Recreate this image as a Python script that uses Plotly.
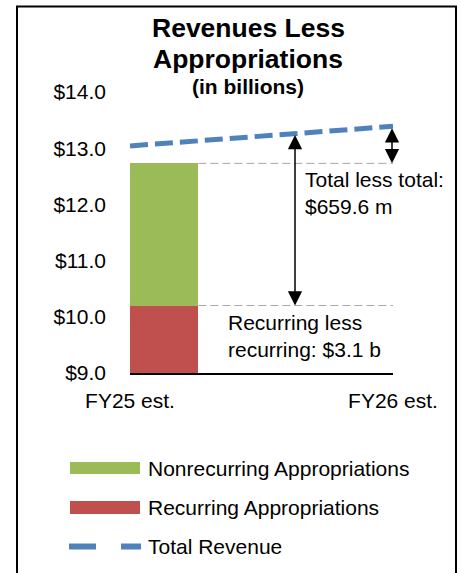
import plotly.graph_objects as go

# ---- data ----
categories = ["FY25 est.", "FY26 est."]
cat_pos = [0, 1]
recurring = [10.20]          # FY25 recurring appropriations ($b)
nonrecurring = [2.53]        # FY25 nonrecurring appropriations ($b)
total_revenue = [13.04, 13.39]
y_ticks = [9, 10, 11, 12, 13, 14]
y_tick_labels = ["$9.0", "$10.0", "$11.0", "$12.0", "$13.0", "$14.0"]
note_total = "Total less total:<br>$659.6 m"
note_recurring = "Recurring less<br>recurring: $3.1 b"

GREEN = "#9BBB59"
RED = "#C0504D"
BLUE = "#4F81BD"
FONT = "Liberation Sans, Arial, sans-serif"

W, H = 461, 573
L, R, T, B = 130, 68, 92, 200
PW, PH = W - L - R, H - T - B


def px_x(p):
    return (p - L) / PW


def px_y(p):
    return (H - B - p) / PH


fig = go.Figure()
fig.add_bar(x=[cat_pos[0]], y=recurring, width=0.26, offset=0,
            marker=dict(color=RED, line=dict(width=0)), name="Recurring Appropriations")
fig.add_bar(x=[cat_pos[0]], y=nonrecurring, width=0.26, offset=0,
            marker=dict(color=GREEN, line=dict(width=0)), name="Nonrecurring Appropriations")
fig.add_scatter(x=cat_pos, y=total_revenue, mode="lines", name="Total Revenue",
                line=dict(color=BLUE, width=5, dash="18px,7px"))

bar_right = cat_pos[0] + 0.26
total_fy25 = recurring[0] + nonrecurring[0]
shapes = []
# gray guide lines
for yv in [total_fy25, recurring[0]]:
    shapes.append(dict(type="line", xref="x", yref="y", x0=bar_right, x1=px_x(408),
                       y0=yv, y1=yv, line=dict(color="#A6A6A6", width=1, dash="8px,4px")))
# outer border
shapes.append(dict(type="rect", xref="paper", yref="paper", x0=px_x(17), x1=px_x(456),
                   y0=px_y(6.5), y1=px_y(620), line=dict(color="black", width=2),
                   fillcolor="rgba(0,0,0,0)"))
# manual legend swatches
shapes.append(dict(type="rect", xref="paper", yref="paper", x0=px_x(70), x1=px_x(140),
                   y0=px_y(462), y1=px_y(474), line=dict(width=0), fillcolor=GREEN))
shapes.append(dict(type="rect", xref="paper", yref="paper", x0=px_x(70), x1=px_x(140),
                   y0=px_y(501), y1=px_y(514), line=dict(width=0), fillcolor=RED))
for a, b in [(69, 96), (121, 141)]:
    shapes.append(dict(type="line", xref="paper", yref="paper", x0=px_x(a), x1=px_x(b),
                       y0=px_y(546.5), y1=px_y(546.5), line=dict(color=BLUE, width=6)))

annotations = []
# title
for txt, cy, sz in [("<b>Revenues Less</b>", 28, 26.5), ("<b>Appropriations</b>", 59, 26.5),
                    ("<b>(in billions)</b>", 86, 21)]:
    annotations.append(dict(text=txt, xref="paper", yref="paper", x=px_x(248), y=px_y(cy),
                            xanchor="center", yanchor="middle", showarrow=False,
                            font=dict(size=sz, color="black", family=FONT)))

# arrows
arrow_x1 = px_x(295)
rev_at_x1 = total_revenue[0] + (total_revenue[1] - total_revenue[0]) * arrow_x1
arrow_x2 = px_x(392)
for xv, ytop, ybot in [(arrow_x1, rev_at_x1, recurring[0]),
                       (arrow_x2, total_revenue[1] - 0.01, total_fy25)]:
    annotations.append(dict(text="", x=xv, y=ybot, ax=xv, ay=ytop, xref="x", yref="y",
                            axref="x", ayref="y", showarrow=True, arrowside="end+start",
                            arrowhead=2, startarrowhead=2, arrowsize=1.9, startarrowsize=1.9,
                            arrowwidth=1.5, arrowcolor="black", standoff=0, startstandoff=0))

annotations.append(dict(text=note_total, xref="paper", yref="paper", x=px_x(303), y=px_y(166),
                        xanchor="left", yanchor="top", align="left", showarrow=False,
                        font=dict(size=21, color="black", family=FONT)))
annotations.append(dict(text=note_recurring, xref="paper", yref="paper", x=px_x(226), y=px_y(309),
                        xanchor="left", yanchor="top", align="left", showarrow=False,
                        font=dict(size=21, color="black", family=FONT)))

# legend labels
for txt, cy in [("Nonrecurring Appropriations", 468), ("Recurring Appropriations", 507),
                ("Total Revenue", 546)]:
    annotations.append(dict(text=txt, xref="paper", yref="paper", x=px_x(146), y=px_y(cy),
                            xanchor="left", yanchor="middle", showarrow=False,
                            font=dict(size=21, color="black", family=FONT)))

fig.update_layout(
    width=W, height=H, margin=dict(l=L, r=R, t=T, b=B),
    barmode="stack", showlegend=False,
    plot_bgcolor="white", paper_bgcolor="white",
    font=dict(family=FONT, size=21, color="black"),
    xaxis=dict(range=[0, 1], tickvals=cat_pos, ticktext=categories, showgrid=False,
               zeroline=False, showline=True, linecolor="black", linewidth=1.5,
               ticks="", ticklabelstandoff=8, fixedrange=True),
    yaxis=dict(range=[9, 14], tickvals=y_ticks, ticktext=y_tick_labels,
               showgrid=False, zeroline=False, showline=False, ticks="",
               ticklabelstandoff=23, fixedrange=True),
    shapes=shapes, annotations=annotations,
)

fig.write_html("out.html", config={"displayModeBar": False},
               post_script="document.body.style.margin='0px';")
